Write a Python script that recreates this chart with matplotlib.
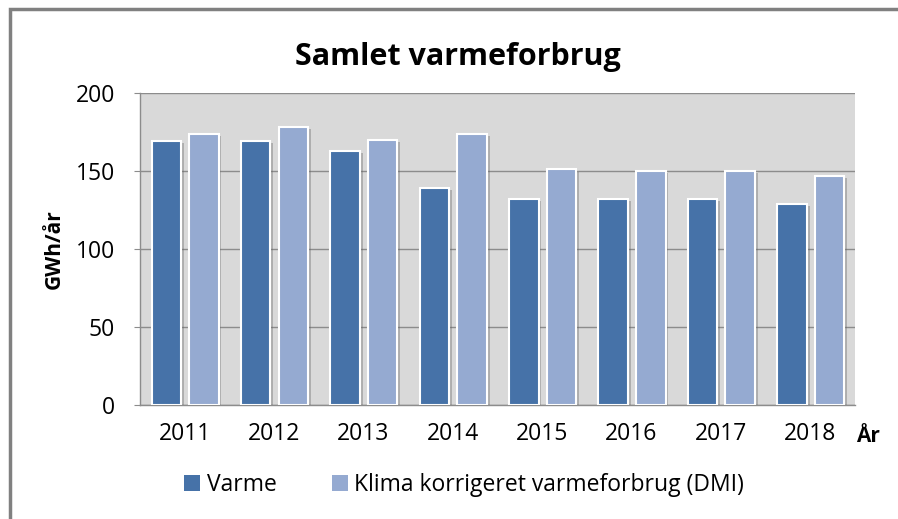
import matplotlib
matplotlib.use("Agg")
import matplotlib.pyplot as plt
import matplotlib.patheffects as pe
from matplotlib.patches import Rectangle
import numpy as np

years = ["2011", "2012", "2013", "2014", "2015", "2016", "2017", "2018"]
varme = [169, 169, 163, 139, 132, 132, 132, 129]
klima = [174, 178, 170, 174, 151, 150, 150, 147]
series_names = ["Varme", "Klima korrigeret varmeforbrug (DMI)"]
yticks = [0, 50, 100, 150, 200]

narrow = "Open Sans"
boldf = "Open Sans"

c1 = "#4672A8"
c2 = "#95AAD1"

fig = plt.figure(figsize=(8.98, 5.19), dpi=100)
fig.patch.set_facecolor("white")
fig.add_artist(Rectangle((10/898, -0.1), 1.2, 1 - 9/519 + 0.1, transform=fig.transFigure,
                         fill=False, edgecolor="#808080", linewidth=2.5))

ax = fig.add_axes([140/898, 1 - 405/519, 715/898, 312/519])
ax.set_facecolor("#D9D9D9")
x = np.arange(len(years))
w = 0.33
shadow = [pe.SimplePatchShadow(offset=(2, -1.5), shadow_rgbFace="#606060", alpha=0.35), pe.Normal()]
b1 = ax.bar(x - 0.205, varme, w, color=c1, edgecolor="white", linewidth=1.5, zorder=3,
            label=series_names[0])
b2 = ax.bar(x + 0.215, klima, w, color=c2, edgecolor="white", linewidth=1.5, zorder=3,
            label=series_names[1])
for b in list(b1) + list(b2):
    b.set_path_effects(shadow)

ax.set_xlim(-0.5, len(years) - 0.5)
ax.set_ylim(0, 200)
ax.set_yticks(yticks)
ax.set_xticks(x)
ax.set_xticklabels(years, fontfamily=narrow, fontsize=16.5)
ax.set_yticklabels([str(v) for v in yticks], fontfamily=narrow, fontsize=16.5)
ax.yaxis.grid(True, color="#8C8C8C", linewidth=1, zorder=1)
ax.set_axisbelow(True)
ax.tick_params(axis="x", length=0, pad=12)
ax.tick_params(axis="y", length=4, color="#8C8C8C", pad=14)
for s in ["top", "right"]:
    ax.spines[s].set_visible(False)
for s in ["left", "bottom"]:
    ax.spines[s].set_color("#8C8C8C")
    ax.spines[s].set_linewidth(1)
ax.set_ylabel("GWh/år", fontfamily=boldf, fontweight="bold", fontsize=15, labelpad=8)

fig.text(458/898, 1 - 57/519, "Samlet varmeforbrug", ha="center", va="center",
         fontfamily=boldf, fontweight="bold", fontsize=22)
fig.text(868/898, 1 - 436/519, "År", ha="center", va="center",
         fontfamily=boldf, fontweight="bold", fontsize=15)

leg = fig.legend(handles=[b1, b2], labels=series_names, loc="center",
                 bbox_to_anchor=(464/898, 1 - 485/519), ncol=2, frameon=False,
                 prop={"family": narrow, "size": 16.5}, handlelength=0.7, handleheight=0.7,
                 handletextpad=0.3, columnspacing=2.4)
for h in leg.legend_handles:
    h.set_edgecolor("none")
    h.set_path_effects([])

fig.savefig("out.png", dpi=100)
